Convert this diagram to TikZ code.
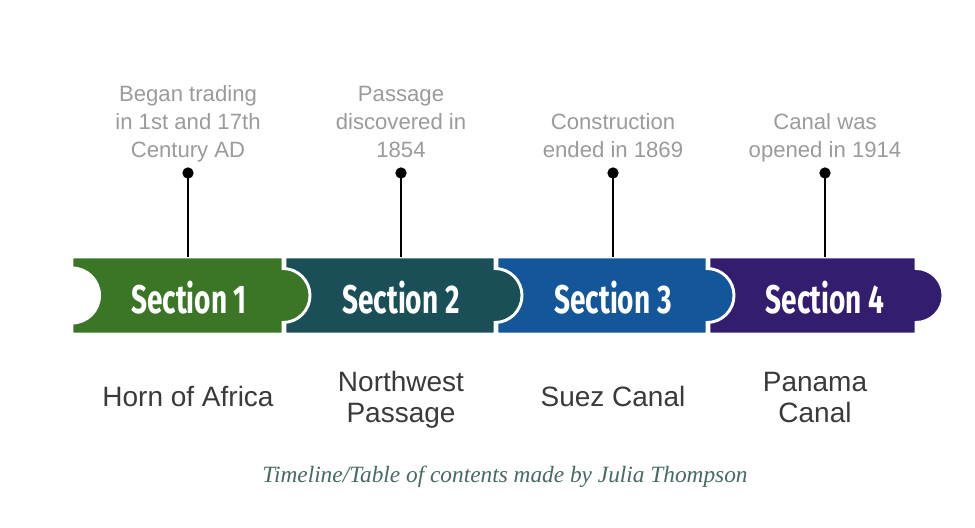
\documentclass[tikz,border=0pt]{standalone}
\usepackage{fontspec}
\setmainfont{Liberation Sans}
\newfontfamily\firab{Fira Sans}[UprightFont=* Bold]
\newfontfamily\footserif{Liberation Serif}
\usepackage{graphicx}
\definecolor{cgreen}{HTML}{3B7627}
\definecolor{cteal}{HTML}{1B4F57}
\definecolor{cblue}{HTML}{135699}
\definecolor{cpurple}{HTML}{331D6E}
\definecolor{ctop}{HTML}{9B9B9B}
\definecolor{cbot}{HTML}{3A3A3A}
\definecolor{cfoot}{HTML}{466A64}
\tikzset{
  toptext/.style={font=\fontsize{16.6}{21}\selectfont, text=ctop, align=center, inner sep=0pt, anchor=base},
  bottext/.style={font=\fontsize{21}{23.3}\selectfont, text=cbot, align=center, inner sep=0pt, anchor=base},
  seclabel/.style={text=white, inner sep=0pt, font=\firab\fontsize{30}{30}\selectfont},
  pin/.style={circle, fill=black, inner sep=0pt, minimum size=8.5},
  stem/.style={line width=1.5},
  segfill/.style={draw=white, line width=2.2},
}
\begin{document}
\begin{tikzpicture}[x=0.75pt,y=0.75pt]
\useasboundingbox[fill=white] (0,0) rectangle (975,528);
% segments: y_top = 528-257 = 271, y_bot = 528-334 = 194, cy = 232.5
\def\yt{271}\def\yb{194}\def\cy{232.5}\def\rr{27}
\foreach \L/\R/\c in {709/916/cpurple, 497/707/cblue, 285/495/cteal, 72/283/cgreen}{
  \fill[\c, segfill] (\L,\yt) -- (\R,\yt) -- (\R,\cy+\rr) arc (90:-90:\rr) -- (\R,\yb) -- (\L,\yb) -- cycle;
}
\fill[white] (72,\cy-29) arc (-90:90:29) -- cycle;
% section labels
\node[seclabel] (s1) at (189,230) {\scalebox{0.7}[1]{Section 1}};
\node[seclabel] (s2) at (401,230) {\scalebox{0.7}[1]{Section 2}};
\node[seclabel] (s3) at (613,230) {\scalebox{0.7}[1]{Section 3}};
\node[seclabel] (s4) at (825,230) {\scalebox{0.7}[1]{Section 4}};
% pins
\foreach \i/\x in {1/188,2/401,3/613,4/825}{
  \node[pin] (p\i) at (\x,355) {};
  \coordinate (b\i) at (\x,\yt);
  \draw[stem] (p\i.center) -- (b\i);
}
% top texts (anchor base = last line baseline)
\node[toptext] (t1) at (188,370.5) {Began trading\\in 1st and 17th\\Century AD};
\node[toptext] (t2) at (401,370.5) {Passage\\discovered in\\1854};
\node[toptext] (t3) at (613,370.5) {Construction\\ended in 1869};
\node[toptext] (t4) at (825,370.5) {Canal was\\opened in 1914};
% bottom labels
\node[bottext] (l1) at (188,121) {Horn of Africa};
\node[bottext] (l2) at (401,105) {Northwest\\Passage};
\node[bottext] (l3) at (613,121) {Suez Canal};
\node[bottext] (l4) at (815,105) {Panama\\Canal};
% footer
\node[inner sep=0pt, text=cfoot, font=\footserif\itshape\fontsize{17.5}{20}\selectfont] (f) at (505,51) {Timeline/Table of contents made by Julia Thompson};
\end{tikzpicture}
\end{document}
